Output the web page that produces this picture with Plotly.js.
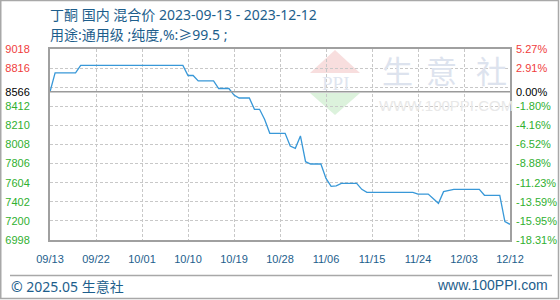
<!DOCTYPE html>
<html><head><meta charset="utf-8">
<script src="https://cdn.plot.ly/plotly-3.0.1.min.js"></script>
<style>html,body{margin:0;padding:0;background:#fff}#chart{width:560px;height:300px}</style>
</head><body><div id="chart"></div>
<script>
// ---- data ----
const dates = ["2023-09-13","2023-09-14","2023-09-18","2023-09-19","2023-10-09","2023-10-10","2023-10-11","2023-10-12","2023-10-15","2023-10-16","2023-10-18","2023-10-19","2023-10-20","2023-10-22","2023-10-23","2023-10-24","2023-10-25","2023-10-26","2023-10-29","2023-10-30","2023-10-31","2023-11-01","2023-11-02","2023-11-03","2023-11-05","2023-11-06","2023-11-07","2023-11-08","2023-11-09","2023-11-12","2023-11-13","2023-11-14","2023-11-23","2023-11-24","2023-11-26","2023-11-27","2023-11-28","2023-11-29","2023-11-30","2023-12-01","2023-12-06","2023-12-07","2023-12-10","2023-12-11","2023-12-12"];
const prices = [8566,8766,8766,8845,8845,8738,8738,8680,8680,8600,8600,8531,8500,8500,8380,8380,8272,8126,8126,7992,7968,8098,7826,7802,7802,7650,7566,7570,7597,7597,7534,7502,7502,7484,7484,7432,7386,7509,7519,7534,7534,7471,7471,7192,7164];
const baseValue = 8566;
const yTickVals = [6998,7200,7402,7604,7806,8008,8210,8412,8566,8614,8816,9018];
const yTickLeft = ["6998","7200","7402","7604","7806","8008","8210","8412","8566","","8816","9018"];
const yTickRight = ["-18.31%","-15.95%","-13.59%","-11.23%","-8.88%","-6.52%","-4.16%","-1.80%","0.00%","","2.91%","5.27%"];
const xTickVals = ["2023-09-13","2023-09-22","2023-10-01","2023-10-10","2023-10-19","2023-10-28","2023-11-06","2023-11-15","2023-11-24","2023-12-03","2023-12-12"];
const xTickText = ["09/13","09/22","10/01","10/10","10/19","10/28","11/06","11/15","11/24","12/03","12/12"];
const titleLine1 = "丁酮 国内 混合价 2023-09-13 - 2023-12-12";
const titleLine2 = "用途:通用级 ;纯度,%:≥99.5 ;";
const footerLeft = "© 2025.05 生意社";
const footerRight = "www.100PPI.com";
const watermarkChars = ["生","意","社"];

// ---- styling helpers ----
const RED = "#f03c3c", GREEN = "#30b030", BLACK = "#000000", BLUE = "#1d5e8c";
function colorFor(v){ return v > baseValue ? RED : (v === baseValue ? BLACK : GREEN); }
const leftText = yTickLeft.map((t,i)=> t ? `<span style="color:${colorFor(yTickVals[i])}">${t}</span>` : "");
const rightText = yTickRight.map((t,i)=> t ? `<span style="color:${colorFor(yTickVals[i])}">${t}</span>` : "");

// plot area: x 50..510, y 49..240 (pixels)
const PL=50, PR=510, PT=49, PB=240;
const px = x => (x-PL)/(PR-PL);
const py = y => (PB-y)/(PB-PT);

const yRange = [6998, 9018];
const xRange = ["2023-09-13","2023-12-12"];
const tickFont = {family:"Liberation Sans, Arial, sans-serif", size:11};
const titleFont = {family:"Noto Sans, Noto Sans CJK SC, sans-serif", size:14, color:BLUE};

const traces = [
  {x:dates, y:prices, type:"scatter", mode:"lines", line:{color:"#3898d8", width:1.3, shape:"linear"}, hoverinfo:"x+y", showlegend:false},
  {x:dates, y:prices, type:"scatter", mode:"lines", yaxis:"y2", line:{color:"rgba(0,0,0,0)", width:0}, hoverinfo:"skip", showlegend:false}
];

const wmX = [397, 441, 491];
const wmAnn = watermarkChars.map((c,i)=>({text:c, xref:"paper", yref:"paper", x:px(wmX[i]), y:py(69), xanchor:"center", yanchor:"middle", showarrow:false,
  font:{family:"Noto Sans CJK SC", size:31, color:"#dde3ee"}}));

const layout = {
  width:560, height:300,
  margin:{l:PL, r:560-PR, t:PT, b:300-PB, pad:0, autoexpand:false},
  paper_bgcolor:"#ffffff", plot_bgcolor:"#ffffff",
  showlegend:false,
  xaxis:{type:"date", range:xRange, tickmode:"array", tickvals:xTickVals, ticktext:xTickText,
    showgrid:true, gridcolor:"#c8c8c8", griddash:"3px,2px", gridwidth:1,
    showline:true, mirror:true, linecolor:"#a0a0a0", linewidth:2,
    ticks:"", ticklabelstandoff:8, tickfont:Object.assign({color:BLUE}, tickFont), zeroline:false, fixedrange:true, automargin:false},
  yaxis:{range:yRange, tickmode:"array", tickvals:yTickVals, ticktext:leftText,
    showgrid:true, gridcolor:"#c8c8c8", griddash:"3px,2px", gridwidth:1,
    showline:true, mirror:true, linecolor:"#a0a0a0", linewidth:2,
    ticks:"", ticklabelstandoff:16, tickfont:Object.assign({color:GREEN}, tickFont), zeroline:false, fixedrange:true, automargin:false},
  yaxis2:{range:yRange, overlaying:"y", side:"right", tickmode:"array", tickvals:yTickVals, ticktext:rightText,
    showgrid:false, showline:false, ticks:"", ticklabelstandoff:5, tickfont:Object.assign({color:GREEN}, tickFont), zeroline:false, fixedrange:true, automargin:false},
  shapes:[
    {type:"path", xref:"paper", yref:"paper", layer:"below", line:{width:0}, fillcolor:"#f8dede",
     path:`M ${px(310)} ${py(73)} L ${px(360)} ${py(73)} L ${px(335)} ${py(50)} Z`},
    {type:"path", xref:"paper", yref:"paper", layer:"below", line:{width:0}, fillcolor:"#dcf2dc",
     path:`M ${px(310)} ${py(93)} L ${px(360)} ${py(93)} L ${px(335)} ${py(115)} Z`},
    {type:"line", xref:"paper", yref:"y", x0:0, x1:1, y0:baseValue, y1:baseValue, line:{color:"#9a9a9a", width:1.5}},
    {type:"line", xref:"paper", yref:"paper", x0:px(10), x1:px(552), y0:py(275.5), y1:py(275.5), line:{color:"#a8a8a8", width:1.5}},
    {type:"rect", xref:"paper", yref:"paper", x0:px(0.75), x1:px(558.5), y0:py(298.5), y1:py(0.5), line:{color:"#a8a8a8", width:1.5}}
  ],
  annotations:[
    {text:"PPI", xref:"paper", yref:"paper", x:px(335), y:py(83), xanchor:"center", yanchor:"middle", showarrow:false,
     font:{family:"Liberation Serif, serif", size:19, color:"#dfe5ef"}},
    ...wmAnn,
    {text:"WWW.100PPI.COM", xref:"paper", yref:"paper", x:px(446), y:py(105), xanchor:"center", yanchor:"middle", showarrow:false,
     font:{family:"Liberation Sans, sans-serif", size:15, color:"#e8e8e8"}},
    {text:titleLine1, xref:"paper", yref:"paper", x:px(48), y:py(15), xanchor:"left", yanchor:"middle", showarrow:false, font:titleFont},
    {text:titleLine2, xref:"paper", yref:"paper", x:px(48), y:py(34), xanchor:"left", yanchor:"middle", showarrow:false, font:titleFont},
    {text:footerLeft, xref:"paper", yref:"paper", x:px(9), y:py(286), xanchor:"left", yanchor:"middle", showarrow:false,
     font:{family:"Noto Sans, Noto Sans CJK SC, sans-serif", size:14, color:BLUE}},
    {text:footerRight, xref:"paper", yref:"paper", x:px(550), y:py(285), xanchor:"right", yanchor:"middle", showarrow:false,
     font:{family:"Liberation Sans, sans-serif", size:14, color:BLUE}}
  ]
};

Plotly.newPlot("chart", traces, layout, {displayModeBar:false, staticPlot:true});
</script>
</body></html>
